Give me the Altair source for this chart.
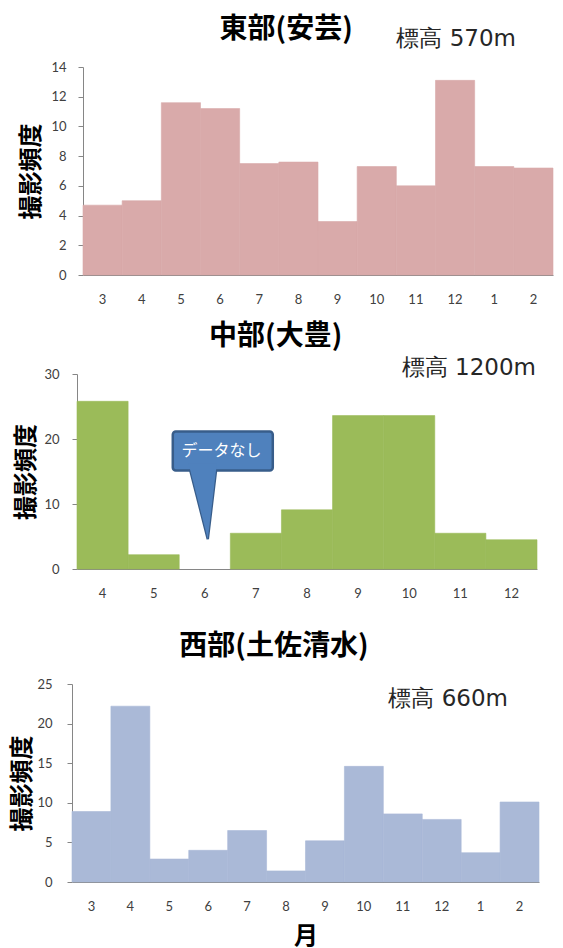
import altair as alt
import pandas as pd

# ---- data ----
months_east = ["3", "4", "5", "6", "7", "8", "9", "10", "11", "12", "1", "2"]
east_values = [4.7, 5.0, 11.6, 11.2, 7.5, 7.6, 3.6, 7.3, 6.0, 13.1, 7.3, 7.2]

months_central = ["4", "5", "6", "7", "8", "9", "10", "11", "12"]
central_values = [25.8, 2.2, None, 5.5, 9.1, 23.6, 23.6, 5.5, 4.5]

months_west = ["3", "4", "5", "6", "7", "8", "9", "10", "11", "12", "1", "2"]
west_values = [8.9, 22.2, 2.9, 4.0, 6.5, 1.4, 5.2, 14.6, 8.6, 7.9, 3.7, 10.1]

titles = ["東部(安芸)", "中部(大豊)", "西部(土佐清水)"]
elevations = ["標高 570m", "標高 1200m", "標高 660m"]
y_title = "撮影頻度"
x_title = "月"
no_data = "データなし"

CJK = "Noto Sans CJK JP"
LABEL_FONT = "Lato"
AXIS_GRAY = "#868686"
LABEL_COLOR = "#404040"


def panel(months, values, color, ymax, step, shift, w, h, title, title_offset,
          elev, elev_x, elev_y, ytitle_x, ylabel_pad,
          show_xtitle=False, extra_layers=None, bottom_ext=None, left_ext=None):
    df = pd.DataFrame({"month": months, "value": values}).dropna()
    xscale = alt.Scale(domain=months, paddingInner=0, paddingOuter=0,
                       range=[shift, shift + w])
    xaxis_kwargs = dict(ticks=False, labelPadding=18, labelAngle=0,
                        labelFont=LABEL_FONT, labelFontSize=13,
                        labelColor=LABEL_COLOR, domainColor=AXIS_GRAY,
                        grid=False)
    if show_xtitle:
        xaxis_kwargs.update(title=x_title, titleFont=CJK, titleFontSize=24,
                            titleFontWeight="bold", titleColor="black",
                            titleY=54, titleBaseline="middle")
        x_enc = alt.X("month:N", sort=months, scale=xscale,
                      axis=alt.Axis(**xaxis_kwargs))
    else:
        x_enc = alt.X("month:N", sort=months, title=None, scale=xscale,
                      axis=alt.Axis(**xaxis_kwargs))
    y_enc = alt.Y("value:Q",
                  scale=alt.Scale(domain=[0, ymax], nice=False, zero=True),
                  axis=alt.Axis(values=list(range(0, ymax + 1, step)),
                                title=y_title, titleFont=CJK, titleFontSize=24,
                                titleFontWeight="bold", titleColor="black",
                                titleAngle=270, titleX=ytitle_x,
                                titleBaseline="middle", offset=-shift,
                                labelFont=LABEL_FONT, labelFontSize=13,
                                labelColor=LABEL_COLOR, labelPadding=ylabel_pad,
                                tickSize=5, tickColor=AXIS_GRAY,
                                domainColor=AXIS_GRAY, grid=False))
    bars = alt.Chart(df).mark_bar(color=color, stroke=color, strokeWidth=0.6).encode(
        x=x_enc, y=y_enc)

    elev_text = alt.Chart(pd.DataFrame({"t": [elev]})).mark_text(
        align="right", baseline="middle", font="DejaVu Sans", fontSize=23,
        color="#262626"
    ).encode(text="t:N", x=alt.value(elev_x), y=alt.value(elev_y))

    layers = [bars, elev_text] + (extra_layers or [])
    if bottom_ext is not None:
        layers.append(alt.Chart(pd.DataFrame({"a": [0]})).mark_rule(
            color="white", strokeWidth=1
        ).encode(x=alt.value(shift + 5), y=alt.value(bottom_ext - 10),
                 y2=alt.value(bottom_ext)))
    if left_ext is not None:
        layers.append(alt.Chart(pd.DataFrame({"a": [0]})).mark_rule(
            color="white", strokeWidth=1
        ).encode(x=alt.value(left_ext), y=alt.value(0), y2=alt.value(2)))
    return alt.layer(*layers).properties(
        width=shift + w, height=h,
        title=alt.TitleParams(title, font=CJK, fontSize=28, fontWeight="bold",
                              color="black", offset=title_offset,
                              anchor="middle", frame="bounds"),
    )


# ---- callout for the missing month in the central panel ----
BOX_FILL = "#4F81BD"
BOX_STROKE = "#385D8A"
tail_path = "M -0.43 -1 L 0.32 -1 L 0.08 1 Z"
one = pd.DataFrame({"t": [no_data]})

tail_outline = alt.Chart(one).mark_point(
    shape=tail_path, size=5670, filled=True, fill=BOX_FILL, stroke=BOX_STROKE,
    strokeWidth=2.5, opacity=1
).encode(x=alt.datum("6"), y=alt.datum(10.39))
box = alt.Chart(one).mark_bar(
    size=100, fill=BOX_FILL, stroke=BOX_STROKE, strokeWidth=2.5, cornerRadius=3,
    xOffset=18
).encode(x=alt.datum("6"), y=alt.datum(15.15), y2=alt.datum(21.14))
tail_fill = alt.Chart(one).mark_point(
    shape=tail_path, size=5670, filled=True, fill=BOX_FILL, strokeWidth=0,
    opacity=1
).encode(x=alt.datum("6"), y=alt.datum(10.39))
box_text = alt.Chart(one).mark_text(
    font=CJK, fontSize=16, color="white", dx=16.7, baseline="middle"
).encode(text="t:N", x=alt.datum("6"), y=alt.datum(18.17))

p1 = panel(months_east, east_values, "#D9AAAA", 14, 2, 11, 470, 208, titles[0], -16,
           elevations[0], 444, -28, -52, 12)
p2 = panel(months_central, central_values, "#9BBB59", 30, 5, 5, 460, 195, titles[1], 6,
           elevations[1], 464, -6, -51, 13, bottom_ext=241,
           extra_layers=[tail_outline, box, tail_fill, box_text])
p3 = panel(months_west, west_values, "#AAB9D7", 25, 5, 0, 467, 198, titles[2], 17,
           elevations[2], 436, 15, -50, 15, show_xtitle=True, left_ext=-63)

chart = alt.vconcat(p1, p2, p3, spacing=17).properties(
    padding={"top": 8, "left": 0, "right": 0, "bottom": 10}
).configure_view(strokeWidth=0)

chart.save("out.html", embed_options={"renderer": "svg", "actions": False})
